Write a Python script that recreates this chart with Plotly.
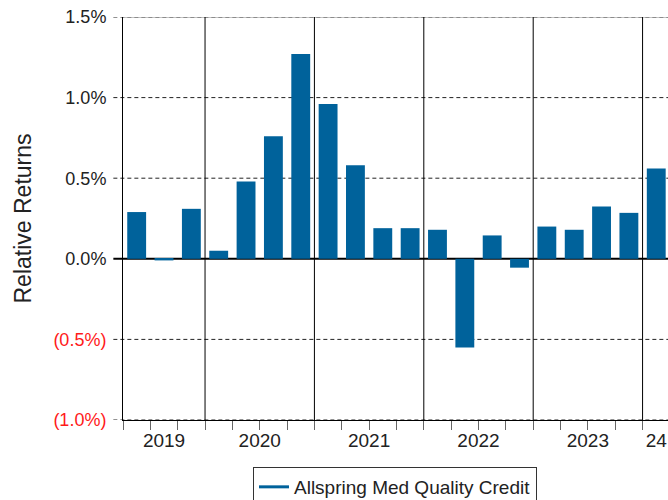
import plotly.graph_objects as go

# ---- data ----
quarters = [
    "2019 Q2", "2019 Q3", "2019 Q4",
    "2020 Q1", "2020 Q2", "2020 Q3", "2020 Q4",
    "2021 Q1", "2021 Q2", "2021 Q3", "2021 Q4",
    "2022 Q1", "2022 Q2", "2022 Q3", "2022 Q4",
    "2023 Q1", "2023 Q2", "2023 Q3", "2023 Q4",
    "2024 Q1",
]
relative_returns = [
    0.29, -0.01, 0.31,
    0.05, 0.48, 0.76, 1.27,
    0.96, 0.58, 0.19, 0.19,
    0.18, -0.55, 0.145, -0.055,
    0.20, 0.18, 0.325, 0.285,
    0.56,
]
series_name = "Allspring Med Quality Credit"
year_labels = ["2019", "2020", "2021", "2022", "2023", "24"]
y_tick_values = [1.5, 1.0, 0.5, 0.0, -0.5, -1.0]
y_tick_labels = ["1.5%", "1.0%", "0.5%", "0.0%", "(0.5%)", "(1.0%)"]

# ---- derived positions ----
x_idx = list(range(len(quarters)))
years = [q.split()[0] for q in quarters]
unique_years = []
for yr in years:
    if yr not in unique_years:
        unique_years.append(yr)
year_centers = [
    sum(i for i, y in enumerate(years) if y == yr) / years.count(yr)
    for yr in unique_years
]
year_bounds = [i - 0.5 for i in range(1, len(years)) if years[i] != years[i - 1]]

BAR_COLOR = "#00629B"
FONT = "Liberation Sans, Arial, sans-serif"
TXT = "#222222"

y_ticktext = [
    (f'<span style="color:#ff1a1a">{t}</span>' if v < 0 else t)
    for v, t in zip(y_tick_values, y_tick_labels)
]

fig = go.Figure()
fig.add_trace(go.Bar(
    x=x_idx, y=relative_returns, name=series_name,
    marker=dict(color=BAR_COLOR, line=dict(width=0)),
    width=0.69, showlegend=False,
))
# legend entry drawn as a line (as in the reference)
fig.add_trace(go.Scatter(
    x=[None], y=[None], mode="lines", name=series_name,
    line=dict(color=BAR_COLOR, width=3), xaxis="x2",
))

x_range = [-0.5, 19.43]
left_ext = -0.0177

shapes = []
for v in [1.5, 1.0, 0.5, -0.5, -1.0]:
    shapes.append(dict(type="line", xref="paper", yref="y", x0=left_ext, x1=1,
                       y0=v, y1=v, layer="below",
                       line=dict(color="#222222", width=1, dash="4px,3px")))
shapes.append(dict(type="line", xref="paper", yref="y", x0=0, x1=1, y0=1.5, y1=1.5,
                   layer="below", line=dict(color="#888888", width=1)))
shapes.append(dict(type="line", xref="paper", yref="y", x0=left_ext, x1=1, y0=0, y1=0,
                   layer="below", line=dict(color="#000000", width=2)))
for b in year_bounds:
    shapes.append(dict(type="line", xref="x", yref="paper", x0=b, x1=b, y0=0, y1=1,
                       layer="below", line=dict(color="#000000", width=1)))

fig.update_layout(
    width=668, height=500,
    margin=dict(l=123, r=0, t=17, b=80, autoexpand=False),
    paper_bgcolor="white", plot_bgcolor="white",
    font=dict(family=FONT, color=TXT),
    shapes=shapes,
    bargap=0.31,
    xaxis=dict(
        range=x_range, tickmode="array", tickvals=[], showgrid=False, zeroline=False,
        showline=True, linecolor="#000000", linewidth=1,
        ticks="",
        minor=dict(tickmode="linear", tick0=-0.5, dtick=1, ticks="outside",
                   ticklen=9, tickcolor="#666666", tickwidth=1, showgrid=False),
    ),
    xaxis2=dict(
        overlaying="x", anchor="y", side="bottom", range=x_range,
        tickmode="array", tickvals=year_centers, ticktext=year_labels,
        ticks="outside", ticklen=3, tickcolor="rgba(0,0,0,0)",
        showgrid=False, zeroline=False, showline=False,
        tickfont=dict(size=19, color=TXT, family=FONT),
    ),
    yaxis=dict(
        range=[-1.0, 1.5], tickmode="array", tickvals=y_tick_values, ticktext=y_ticktext,
        ticks="outside", ticklen=12, tickcolor="rgba(0,0,0,0)",
        showgrid=False, zeroline=False, showline=True, linecolor="#000000", linewidth=1,
        tickfont=dict(size=18, color=TXT, family=FONT),
        title=dict(text="Relative Returns", font=dict(size=23, color=TXT, family=FONT),
                   standoff=15),
    ),
    showlegend=True,
    legend=dict(
        x=0.2385, y=-0.1166, xanchor="left", yanchor="top",
        bordercolor="#333333", borderwidth=1, bgcolor="white",
        font=dict(size=19, color=TXT, family=FONT),
    ),
)

fig.write_html(
    "out.html",
    config={"displayModeBar": False},
    post_script="document.body.style.margin='0';document.body.style.overflow='hidden';",
)
